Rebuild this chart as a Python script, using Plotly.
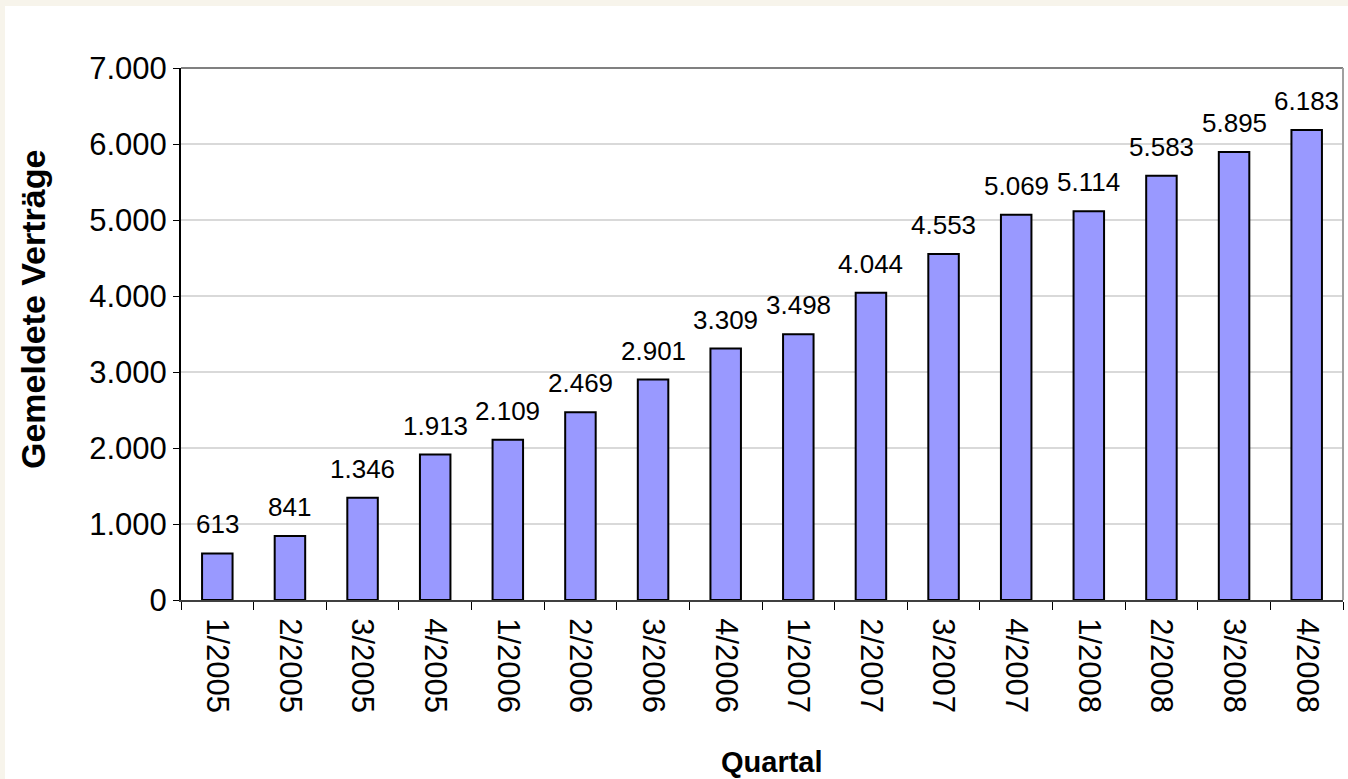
import plotly.graph_objects as go

quarters = ["1/2005", "2/2005", "3/2005", "4/2005",
            "1/2006", "2/2006", "3/2006", "4/2006",
            "1/2007", "2/2007", "3/2007", "4/2007",
            "1/2008", "2/2008", "3/2008", "4/2008"]
contracts = [613, 841, 1346, 1913, 2109, 2469, 2901, 3309,
             3498, 4044, 4553, 5069, 5114, 5583, 5895, 6183]
y_ticks = [0, 1000, 2000, 3000, 4000, 5000, 6000, 7000]

def fmt(v):
    return f"{v:,}".replace(",", ".")

FONT = "Liberation Sans, Arial, sans-serif"
W, H = 1348, 779
L, R, T, B = 181, 5, 68, 179
pw, ph = W - L - R, H - T - B

fig = go.Figure()
fig.add_trace(go.Bar(
    x=quarters, y=contracts,
    marker=dict(color="#9999FF", line=dict(color="#000000", width=2)),
    hoverinfo="x+y",
))

annotations = []
for q, v in zip(quarters, contracts):
    annotations.append(dict(
        x=q, y=v, xref="x", yref="y", text=fmt(v), showarrow=False,
        yanchor="bottom", yshift=12,
        font=dict(family=FONT, size=26, color="#000000"),
    ))
# axis titles
annotations.append(dict(
    x=(772 - L) / pw, y=(H - 762 - B) / ph, xref="paper", yref="paper",
    text="<b>Quartal</b>", showarrow=False, xanchor="center", yanchor="middle",
    font=dict(family=FONT, size=29, color="#000000"),
))
annotations.append(dict(
    x=(33 - L) / pw, y=(H - 310 - B) / ph, xref="paper", yref="paper",
    text="<b>Gemeldete Verträge</b>", showarrow=False, textangle=-90,
    xanchor="center", yanchor="middle",
    font=dict(family=FONT, size=34, color="#000000"),
))

shapes = [
    # cream frame strips (left and top)
    dict(type="rect", xref="paper", yref="paper",
         x0=-L / pw - 0.01, x1=(5 - L) / pw, y0=-B / ph - 0.05, y1=(H - B + 10) / ph + 0.05,
         fillcolor="#F7F4EB", line=dict(width=0), layer="below"),
    dict(type="rect", xref="paper", yref="paper",
         x0=-L / pw - 0.01, x1=(W - L + 10) / pw, y0=(H - 6 - B) / ph, y1=(H - B + 10) / ph,
         fillcolor="#F7F4EB", line=dict(width=0), layer="below"),
    # plot border top and right
    dict(type="line", xref="paper", yref="paper", x0=0, x1=1, y0=1, y1=1,
         line=dict(color="#808080", width=2)),
    dict(type="line", xref="paper", yref="paper", x0=1, x1=1, y0=0, y1=1,
         line=dict(color="#A0A0A0", width=2)),
]

fig.update_layout(
    width=W, height=H,
    margin=dict(l=L, r=R, t=T, b=B, pad=0),
    paper_bgcolor="#FFFFFF", plot_bgcolor="#FFFFFF",
    separators=",.",
    bargap=0.58,
    showlegend=False,
    font=dict(family=FONT, size=31, color="#000000"),
    annotations=annotations,
    shapes=shapes,
    xaxis=dict(
        type="category",
        tickangle=90,
        ticks="outside", ticklen=8, tickwidth=1, tickcolor="#000000",
        tickson="boundaries",
        showline=True, linecolor="#404040", linewidth=2,
        showgrid=False,
        tickfont=dict(family=FONT, size=31, color="#000000"),
        ticklabelstandoff=10,
    ),
    yaxis=dict(
        range=[0, 7000],
        tickvals=y_ticks, ticktext=[fmt(v) for v in y_ticks],
        ticks="outside", ticklen=6, tickwidth=1, tickcolor="#000000",
        showline=True, linecolor="#000000", linewidth=2,
        showgrid=True, gridcolor="#D9D9D9", gridwidth=2,
        zeroline=False,
        tickfont=dict(family=FONT, size=31, color="#000000"),
    ),
)

fig.write_html("out.html")
